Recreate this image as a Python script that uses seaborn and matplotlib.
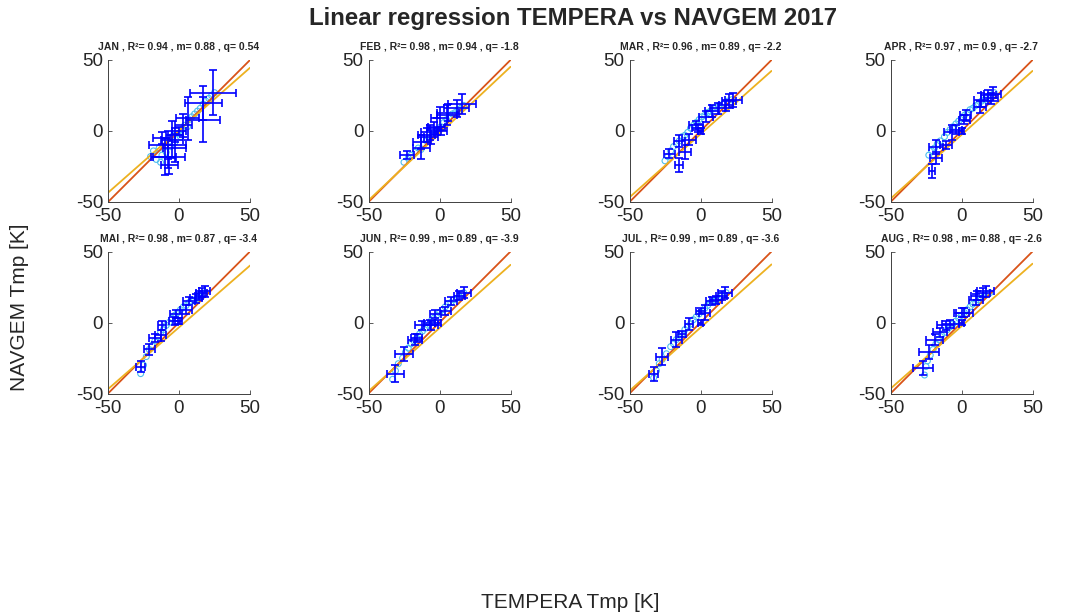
import matplotlib
matplotlib.use("Agg")
import matplotlib.pyplot as plt
import pandas as pd
import seaborn as sns

# monthly fit statistics (as printed in the panel titles)
months = ["JAN", "FEB", "MAR", "APR", "MAI", "JUN", "JUL", "AUG"]
r2 = [0.94, 0.98, 0.96, 0.97, 0.98, 0.99, 0.99, 0.98]
slope = [0.88, 0.94, 0.89, 0.9, 0.87, 0.89, 0.89, 0.88]
intercept = [0.54, -1.8, -2.2, -2.7, -3.4, -3.9, -3.6, -2.6]

# binned means with errors: (tempera, navgem, xerr, yerr)
jan_bars = [(24, 27, 16, 16), (17, 20, 13, 12), (17, 8, 12, 16), (6, 9, 8, 15),
            (0, 0, 5, 3), (-3, -3, 6, 5), (-5, -6, 8, 13), (-8, -10, 13, 10),
            (-10, -18, 8, 13), (-8, -18, 12, 8), (-7, -24, 6, 6), (-3, -12, 8, 10),
            (3, 4, 6, 8), (-12, -5, 6, 4)]
feb_bars = [(16, 19, 10, 7), (12, 16, 9, 6), (6, 13, 8, 6), (5, 11, 7, 7),
            (0, 9, 6, 8), (-2, 3, 6, 6), (-7, -1, 6, 5), (-9, -3, 6, 5),
            (-13, -8, 6, 5), (-13, -12, 6, 8), (-23, -17, 5, 3), (-4, 2, 5, 4),
            (1, 0, 4, 3), (-6, -4, 5, 5)]
mar_bars = [(23, 22, 6, 5), (20, 21, 5, 5), (18, 18, 5, 4), (12, 16, 5, 4),
            (8, 14, 5, 4), (4, 10, 5, 4), (-3, 4, 5, 3), (-2, 2, 4, 3),
            (-8, -6, 5, 4), (-15, -7, 4, 4), (-11, -15, 4, 5), (-22, -16, 4, 3),
            (-15, -24, 3, 5), (0, 0, 2, 2)]
apr_bars = [(22, 26, 6, 5), (21, 23, 5, 4), (19, 25, 5, 4), (14, 22, 5, 5),
            (13, 17, 4, 4), (3, 11, 4, 4), (2, 8, 4, 3), (-4, 1, 4, 3),
            (-7, -1, 5, 5), (-11, -10, 4, 3), (-18, -11, 5, 5), (-18, -19, 4, 4),
            (-21, -28, 2, 5), (0, 0, 2, 2)]
mai_bars = [(18, 22, 4, 4), (16, 21, 4, 3), (14, 19, 3, 3), (12, 17, 4, 3),
            (7, 15, 4, 3), (5, 9, 4, 3), (-2, 6, 4, 3), (-3, 1, 4, 3),
            (-1, 1, 3, 2), (-12, -2, 3, 3), (-13, -9, 4, 4), (-17, -11, 4, 3),
            (-21, -19, 4, 4), (-27, -31, 3, 4)]
jun_bars = [(17, 21, 5, 4), (14, 19, 4, 3), (8, 15, 4, 3), (4, 8, 4, 3),
            (-3, 6, 4, 3), (-6, -2, 5, 3), (-12, -2, 5, 3), (-7, 0, 4, 2),
            (-16, -11, 4, 3), (-17, -12, 5, 4), (-25, -22, 6, 5), (-31, -36, 6, 6),
            (-1, 0, 2, 2)]
jul_bars = [(17, 21, 5, 4), (15, 19, 4, 3), (11, 16, 4, 3), (8, 15, 4, 3),
            (3, 7, 4, 5), (0, 8, 3, 2), (-8, -1, 3, 4), (-13, -8, 3, 2),
            (-17, -12, 4, 5), (-27, -24, 4, 6), (-33, -36, 3, 5), (0, 0, 2, 2)]
aug_bars = [(17, 22, 6, 4), (15, 21, 5, 3), (11, 19, 4, 3), (10, 16, 5, 4),
            (2, 7, 6, 3), (0, 7, 5, 3), (-8, -1, 6, 3), (-11, -2, 6, 3),
            (-15, -7, 5, 3), (-19, -12, 6, 4), (-23, -21, 7, 5), (-27, -32, 7, 5),
            (0, 0, 2, 2)]

# individual profiles: (tempera, navgem)
jan_pts = [(-20, -18), (-18, -14), (-16, -20), (-14, -12), (-13, -22), (-12, -17),
           (-10, -8), (-9, -15), (-7, -5), (-6, -11), (-4, -3), (-3, -8), (-1, -2),
           (1, -4), (2, 1), (4, 4), (6, 3), (7, 8), (9, 10), (11, 12), (13, 14),
           (15, 16), (17, 19), (19, 21), (21, 23), (23, 25), (25, 27)]
feb_pts = [(-25, -22), (-22, -19), (-20, -17), (-17, -15), (-15, -12), (-13, -13),
           (-11, -9), (-9, -7), (-7, -5), (-5, -3), (-3, -1), (-1, 1), (1, 3),
           (3, 6), (5, 8), (7, 10), (9, 12), (11, 13), (13, 15), (15, 16), (17, 18)]
mar_pts = [(-25, -21), (-23, -18), (-21, -14), (-19, -11), (-17, -9), (-15, -7),
           (-13, -4), (-11, -3), (-9, -1), (-7, 2), (-5, 4), (-3, 6), (-1, 8),
           (1, 10), (3, 11), (5, 13), (7, 14), (9, 16), (11, 17), (13, 18),
           (16, 19), (19, 21), (22, 22)]
apr_pts = [(-23, -17), (-21, -14), (-19, -12), (-17, -9), (-15, -7), (-12, -4),
           (-10, -1), (-8, 1), (-6, 3), (-4, 5), (-2, 7), (0, 9), (2, 11), (4, 13),
           (6, 15), (8, 16), (10, 18), (12, 19), (14, 21), (16, 22), (18, 24),
           (20, 25), (23, 27)]
mai_pts = [(-27, -36), (-25, -30), (-23, -24), (-21, -19), (-19, -16), (-17, -13),
           (-15, -10), (-13, -7), (-11, -5), (-9, -2), (-7, 0), (-5, 3), (-3, 5),
           (-1, 7), (1, 9), (3, 11), (5, 12), (7, 14), (9, 15), (11, 16), (13, 17),
           (15, 19), (17, 20), (18, 21)]
jun_pts = [(-33, -40), (-31, -34), (-29, -29), (-26, -25), (-24, -21), (-22, -18),
           (-20, -15), (-18, -13), (-16, -11), (-14, -8), (-12, -6), (-10, -4),
           (-8, -2), (-6, 1), (-4, 3), (-2, 5), (0, 7), (2, 9), (4, 11), (6, 13),
           (8, 14), (10, 16), (12, 17), (14, 18), (16, 20), (17, 21)]
jul_pts = [(-33, -39), (-31, -34), (-29, -29), (-27, -26), (-24, -22), (-21, -17),
           (-19, -15), (-17, -12), (-15, -10), (-13, -8), (-11, -5), (-9, -3),
           (-7, -1), (-5, 2), (-3, 4), (-1, 6), (1, 8), (3, 10), (5, 12), (7, 14),
           (9, 15), (11, 16), (13, 17), (15, 19), (18, 21)]
aug_pts = [(-26, -37), (-25, -31), (-24, -27), (-22, -23), (-20, -19), (-18, -15),
           (-16, -12), (-14, -9), (-12, -7), (-10, -5), (-8, -3), (-6, -1), (-4, 1),
           (-2, 3), (0, 5), (2, 7), (4, 9), (6, 11), (8, 13), (10, 14), (12, 16),
           (14, 17), (16, 19), (18, 20), (20, 21)]

all_bars = [jan_bars, feb_bars, mar_bars, apr_bars, mai_bars, jun_bars, jul_bars, aug_bars]
all_pts = [jan_pts, feb_pts, mar_pts, apr_pts, mai_pts, jun_pts, jul_pts, aug_pts]

sns.set_style("ticks")
plt.rcParams["font.family"] = ["Liberation Sans", "DejaVu Sans"]
plt.rcParams["axes.unicode_minus"] = False

W, H = 1089, 615
fig = plt.figure(figsize=(W / 100, H / 100), dpi=100)

col_left = [108, 368.5, 629.5, 890.5]
row_top = [60, 251.5]
size = 142

lims = [-50, 50]
for i, mon in enumerate(months):
    r, c = divmod(i, 4)
    ax = fig.add_axes([col_left[c] / W, 1 - (row_top[r] + size) / H, size / W, size / H])

    pts = pd.DataFrame(all_pts[i], columns=["tempera", "navgem"])
    bars = pd.DataFrame(all_bars[i], columns=["tempera", "navgem", "xerr", "yerr"])

    sns.scatterplot(data=pts, x="tempera", y="navgem", ax=ax, marker="o",
                    facecolor="none", edgecolor="#4DBEEE", s=18, linewidth=0.8,
                    zorder=1)

    # 1:1 line and fitted line
    sns.lineplot(x=lims, y=lims, ax=ax, color="#D95319", linewidth=1.3, zorder=2)
    fit_y = [slope[i] * v + intercept[i] for v in lims]
    sns.lineplot(x=lims, y=fit_y, ax=ax, color="#EDB120", linewidth=1.3, zorder=2)

    ax.errorbar(bars["tempera"], bars["navgem"], xerr=bars["xerr"], yerr=bars["yerr"],
                fmt="none", ecolor="#0000FF", elinewidth=1.2, capsize=2.8,
                capthick=1.2, zorder=3)

    ax.set_xlim(lims)
    ax.set_ylim(lims)
    ax.set_xticks([-50, 0, 50])
    ax.set_yticks([-50, 0, 50])
    ax.set_xlabel("")
    ax.set_ylabel("")
    sns.despine(ax=ax)
    for side in ["left", "bottom"]:
        ax.spines[side].set_color("#404040")
        ax.spines[side].set_linewidth(0.7)
    ax.tick_params(axis="both", direction="in", length=3, width=0.6, color="#404040",
                   labelsize=13.5, labelcolor="#262626")
    ax.tick_params(axis="x", pad=4.5)
    ax.tick_params(axis="y", pad=3.5)
    ax.set_title(f"{mon} , R\u00b2= {r2[i]:g} , m= {slope[i]:g} , q= {intercept[i]:g}",
                 fontsize=7.5, fontweight="bold", pad=7)

fig.text(0.526, 1 - 18 / H, "Linear regression TEMPERA vs NAVGEM 2017",
         ha="center", va="center", fontsize=17.3, fontweight="bold", color="#262626")
fig.text(0.524, 1 - 603 / H, "TEMPERA Tmp [K]", ha="center", va="center",
         fontsize=15, color="#262626")
fig.text(20 / W, 0.5, "NAVGEM Tmp [K]", ha="center", va="center", rotation=90,
         fontsize=15, color="#262626")

fig.savefig("out.png", dpi=100, facecolor="white")
